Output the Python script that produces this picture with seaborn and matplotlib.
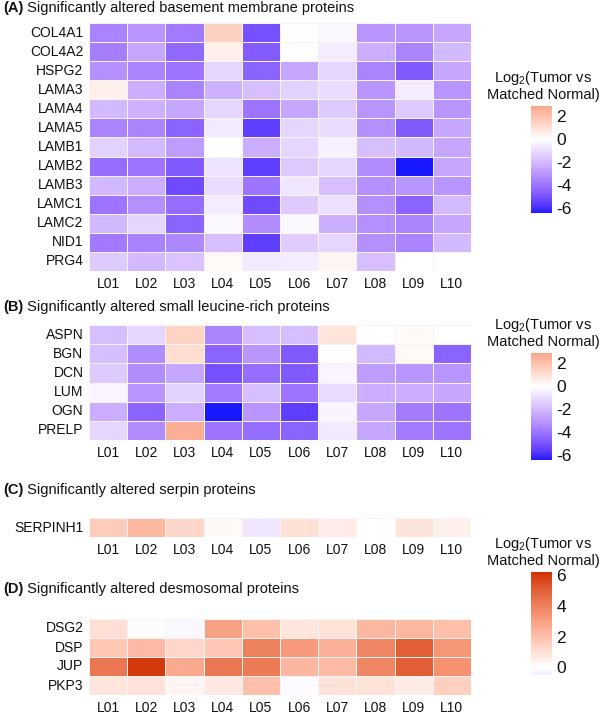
import numpy as np
import matplotlib
matplotlib.use('Agg')
import matplotlib.pyplot as plt
import seaborn as sns
from matplotlib.colors import ListedColormap

sns.set_style('white')
plt.rcParams['font.family'] = ['Liberation Sans', 'DejaVu Sans']
plt.rcParams['mathtext.fontset'] = 'custom'
plt.rcParams['mathtext.rm'] = 'Liberation Sans'
plt.rcParams['axes.unicode_minus'] = False

# %% data
samples = ['L01', 'L02', 'L03', 'L04', 'L05', 'L06', 'L07', 'L08', 'L09', 'L10']
nan = np.nan

bm_genes = ['COL4A1', 'COL4A2', 'HSPG2', 'LAMA3', 'LAMA4', 'LAMA5', 'LAMB1',
            'LAMB2', 'LAMB3', 'LAMC1', 'LAMC2', 'NID1', 'PRG4']
bm_vals = [
    [-3.5, -3.0, -3.8, 1.5, -5.0, 0.05, -0.2, -3.0, -3.0, -2.5],
    [-3.7, -2.5, -4.3, 0.5, -4.7, 0.0, -0.5, -2.3, -3.5, -2.0],
    [-3.2, -3.5, -4.0, -1.2, -4.5, -2.5, -1.2, -3.5, -4.8, -2.5],
    [0.5, -2.3, -3.5, -2.2, -1.8, -1.3, -1.0, -3.0, -0.5, -3.0],
    [-2.0, -2.2, -2.5, -1.2, -4.0, -2.5, -1.5, -3.0, -1.5, -3.0],
    [-3.5, -3.5, -4.5, -0.6, -5.5, -1.2, -1.0, -3.2, -4.8, -2.5],
    [-1.3, -2.0, -2.8, 0.0, -2.3, -1.2, -0.4, -1.8, -2.0, -2.5],
    [-4.2, -4.0, -4.8, -0.8, -5.5, -1.5, -1.2, -3.3, -6.5, -2.5],
    [-2.0, -2.3, -5.2, -1.0, -4.0, -0.7, -1.8, -3.2, -3.0, -3.0],
    [-4.0, -3.2, -4.2, -0.5, -5.2, -1.5, -0.9, -3.2, -4.5, -2.0],
    [-2.0, -1.2, -4.5, -0.2, -3.3, -0.2, -2.3, -3.2, -3.5, -2.5],
    [-3.8, -3.6, -3.4, -1.8, -5.5, -1.4, -1.2, -3.2, -3.5, -2.0],
    [-1.5, -2.0, -1.7, 0.2, -0.6, -0.5, 0.3, -1.8, nan, nan],
]

slrp_genes = ['ASPN', 'BGN', 'DCN', 'LUM', 'OGN', 'PRELP']
slrp_vals = [
    [-1.8, -1.2, 1.4, -3.5, -1.8, -1.8, 0.9, nan, 0.2, nan],
    [-1.8, -3.3, 1.1, -4.5, -3.0, -4.8, 0.0, -2.0, 0.2, -4.5],
    [-1.5, -3.3, -2.5, -5.0, -4.2, -4.8, -0.3, -2.8, -3.0, -3.0],
    [-0.3, -3.0, -1.3, -3.8, -1.8, -4.0, -1.0, -2.3, -2.3, -2.5],
    [-2.3, -4.5, -2.3, -6.5, -3.0, -5.5, -0.3, -2.5, -3.8, -4.0],
    [-1.2, -3.3, 2.6, -4.0, -4.2, -4.5, -0.6, -2.5, -3.8, -4.0],
]

serpin_genes = ['SERPINH1']
serpin_vals = [[1.7, 2.3, 1.3, 0.2, -0.7, 1.0, 0.6, nan, 0.9, 0.5]]

desmo_genes = ['DSG2', 'DSP', 'JUP', 'PKP3']
desmo_vals = [
    [1.0, 0.1, -0.2, 3.0, 2.0, 0.8, 0.9, 2.3, 2.3, 2.0],
    [1.8, 2.2, 1.3, 1.8, 4.0, 3.2, 2.5, 3.8, 5.0, 3.3],
    [4.3, 6.0, 2.7, 4.3, 4.2, 2.3, 2.2, 3.8, 5.0, 3.5],
    [0.8, 0.9, 0.3, 0.7, 2.0, -0.1, 0.9, 0.9, 0.6, 1.5],
]


# %% colour scale (white mid, interpolated in Lab like ggplot gradient2)
def to_lab(rgb):
    c = np.asarray(rgb, float) / 255
    c = np.where(c > 0.04045, ((c + 0.055) / 1.055) ** 2.4, c / 12.92)
    m = np.array([[0.4124, 0.3576, 0.1805],
                  [0.2126, 0.7152, 0.0722],
                  [0.0193, 0.1192, 0.9505]])
    xyz = m @ c / np.array([0.95047, 1.0, 1.08883])
    f = np.where(xyz > 0.008856, np.cbrt(xyz), 7.787 * xyz + 16 / 116)
    return np.array([116 * f[1] - 16, 500 * (f[0] - f[1]), 200 * (f[1] - f[2])])


def from_lab(lab):
    fy = (lab[0] + 16) / 116
    f = np.array([fy + lab[1] / 500, fy, fy - lab[2] / 200])
    xyz = np.where(f > 0.2069, f ** 3, (f - 16 / 116) / 7.787)
    xyz = xyz * np.array([0.95047, 1.0, 1.08883])
    m = np.array([[3.2406, -1.5372, -0.4986],
                  [-0.9689, 1.8758, 0.0415],
                  [0.0557, -0.2040, 1.0570]])
    c = np.clip(m @ xyz, 0, 1)
    c = np.where(c > 0.0031308, 1.055 * c ** (1 / 2.4) - 0.055, 12.92 * c)
    return np.clip(c, 0, 1)


low_lab = to_lab((25, 25, 255))
mid_lab = to_lab((255, 255, 255))
high_lab = to_lab((208, 48, 0))


def make_cmap(vmin, vmax, lim):
    cols = []
    for v in np.linspace(vmin, vmax, 256):
        t = min(abs(v) / lim, 1)
        end = low_lab if v < 0 else high_lab
        cols.append(from_lab(mid_lab + t * (end - mid_lab)))
    return ListedColormap(cols)


cold_min, cold_max = -6.4, 2.9
warm_min, warm_max = -0.5, 6.2
cold_cmap = make_cmap(cold_min, cold_max, 6.4)
warm_cmap = make_cmap(warm_min, warm_max, 6.2)

# %% figure
fig = plt.figure(figsize=(6, 7.14), dpi=100)
W, H = 600, 714


def px_axes(x0, y0, x1, y1):
    return fig.add_axes([x0 / W, 1 - y1 / H, (x1 - x0) / W, (y1 - y0) / H])


panels = [
    ('(A)', ' Significantly altered basement membrane proteins', bm_genes, bm_vals,
     (23, 271), 8, cold_cmap, cold_min, cold_max, (106, 213), [2, 0, -2, -4, -6]),
    ('(B)', ' Significantly altered small leucine-rich proteins', slrp_genes, slrp_vals,
     (325, 440), 307, cold_cmap, cold_min, cold_max, (353, 460), [2, 0, -2, -4, -6]),
    ('(C)', ' Significantly altered serpin proteins', serpin_genes, serpin_vals,
     (518, 537), 490, cold_cmap, cold_min, cold_max, None, None),
    ('(D)', ' Significantly altered desmosomal proteins', desmo_genes, desmo_vals,
     (619, 695), 589, warm_cmap, warm_min, warm_max, (572, 675), [6, 4, 2, 0]),
]

for tag, title, genes, vals, (top, bot), ty, cmap, vmin, vmax, cb, cticks in panels:
    ax = px_axes(89, top, 471, bot)
    data = np.array(vals, dtype=float)
    if cb is not None:
        cax = px_axes(531, cb[0], 552, cb[1])
        sns.heatmap(data, ax=ax, cmap=cmap, vmin=vmin, vmax=vmax,
                    linewidths=0.6, linecolor='#f4f4f4', cbar_ax=cax,
                    cbar_kws={'ticks': cticks},
                    xticklabels=samples, yticklabels=genes)
        cbar = ax.collections[0].colorbar
        cbar.outline.set_visible(False)
        cax.tick_params(labelsize=12.5, length=4, color='white', width=0.8,
                        direction='in', pad=3, labelcolor='#111111')
        fig.text(543 / W, 1 - (cb[0] - 11) / H, 'Matched Normal)',
                 ha='center', va='center', fontsize=10.5, color='#111111')
        fig.text(543 / W, 1 - (cb[0] - 28) / H, 'Log$_2$(Tumor vs',
                 ha='center', va='center', fontsize=10.5, color='#111111')
    else:
        sns.heatmap(data, ax=ax, cmap=cmap, vmin=vmin, vmax=vmax,
                    linewidths=0.6, linecolor='#f4f4f4', cbar=False,
                    xticklabels=samples, yticklabels=genes)
    ax.tick_params(axis='both', labelsize=10, labelcolor='#111111',
                   length=2, color='#bbbbbb', pad=2)
    ax.tick_params(axis='x', length=0, pad=4)
    ax.set_yticklabels(genes, rotation=0)
    ax.set_xticklabels(samples, rotation=0)
    fig.text(3 / W, 1 - ty / H, tag, fontsize=10.5, fontweight='bold',
             va='center', ha='left', color='#111111')
    fig.text(23 / W, 1 - ty / H, title, fontsize=10.5, va='center',
             ha='left', color='#111111')

fig.savefig('out.png', dpi=100)
